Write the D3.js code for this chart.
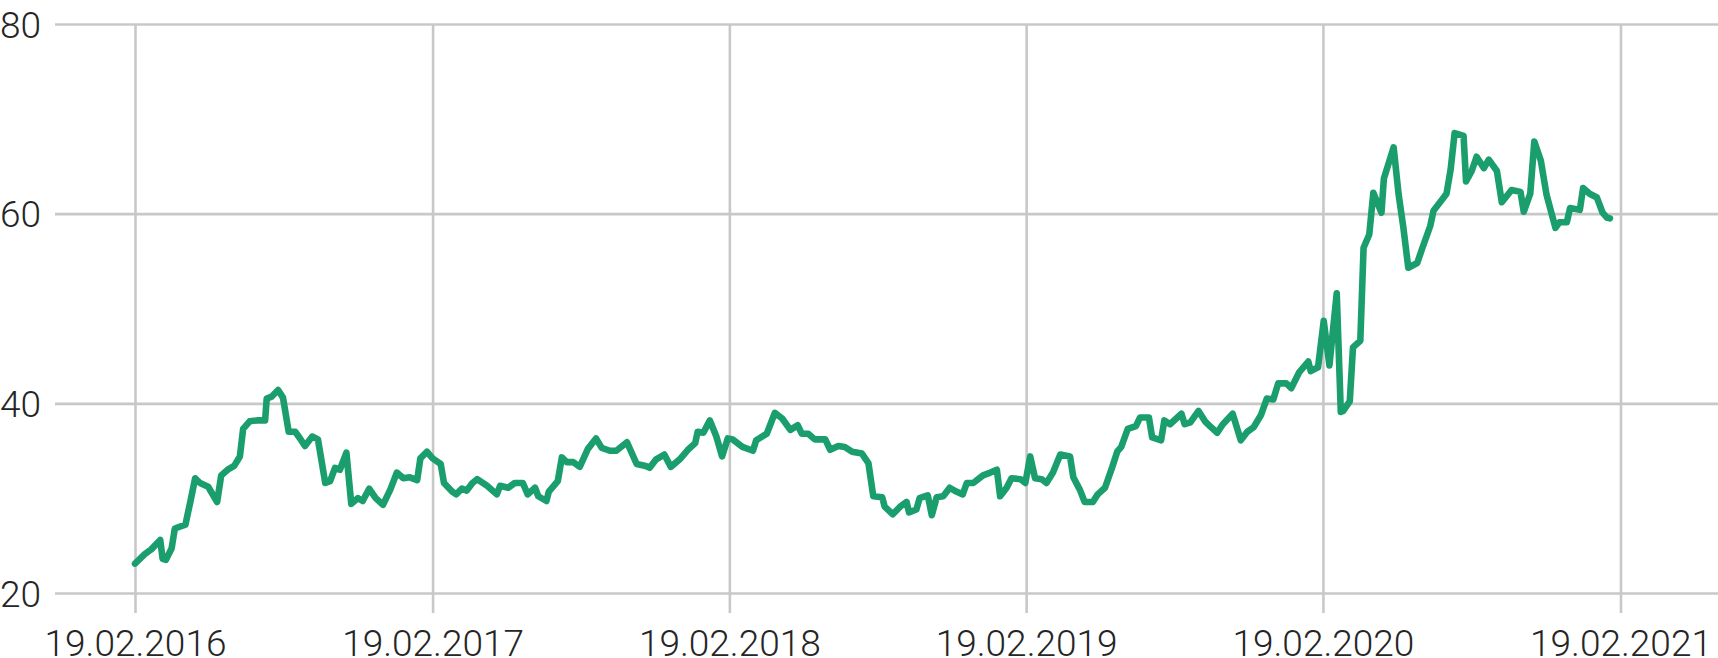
<!DOCTYPE html>
<html>
<head>
<meta charset="utf-8">
<script src="https://cdn.jsdelivr.net/npm/d3@7"></script>
<style>
  html, body { margin: 0; padding: 0; background: #ffffff; }
  svg { display: block; }
  .tick text { font-family: Roboto, "Open Sans", sans-serif; font-weight: 300; font-size: 37px; fill: #252525; }
</style>
</head>
<body>
<svg id="chart" width="1718" height="658"></svg>
<script>
// ---- data ----
const dates = [
"2016-02-19","2016-03-02","2016-03-10","2016-03-21","2016-03-24","2016-03-28","2016-04-04","2016-04-08","2016-04-21","2016-04-27",
"2016-05-03","2016-05-09","2016-05-19","2016-05-30","2016-06-04","2016-06-12","2016-06-20","2016-06-27","2016-07-01","2016-07-09",
"2016-07-18","2016-07-28","2016-07-30","2016-08-05","2016-08-13","2016-08-19","2016-08-26","2016-09-03","2016-09-09","2016-09-15",
"2016-09-24","2016-10-01","2016-10-10","2016-10-16","2016-10-22","2016-10-28","2016-11-05","2016-11-11","2016-11-19","2016-11-25",
"2016-12-03","2016-12-11","2016-12-20","2016-12-29","2017-01-06","2017-01-14","2017-01-22","2017-01-31","2017-02-04","2017-02-12",
"2017-02-19","2017-03-01","2017-03-05","2017-03-15","2017-03-20","2017-03-27","2017-04-02","2017-04-09","2017-04-15","2017-04-27",
"2017-05-09","2017-05-13","2017-05-23","2017-05-31","2017-06-10","2017-06-16","2017-06-25","2017-06-29","2017-07-09","2017-07-12",
"2017-07-23","2017-07-28","2017-08-03","2017-08-11","2017-08-19","2017-08-29","2017-09-08","2017-09-15","2017-09-25","2017-10-03",
"2017-10-16","2017-10-28","2017-11-08","2017-11-13","2017-11-21","2017-12-01","2017-12-09","2017-12-20","2017-12-30","2018-01-08",
"2018-01-11","2018-01-18","2018-01-26","2018-02-03","2018-02-10","2018-02-17","2018-02-23","2018-03-07","2018-03-20","2018-03-24",
"2018-04-06","2018-04-16","2018-04-25","2018-05-05","2018-05-14","2018-05-19","2018-05-27","2018-06-04","2018-06-17","2018-06-23",
"2018-07-03","2018-07-11","2018-07-20","2018-08-01","2018-08-09","2018-08-15","2018-08-26","2018-08-29","2018-09-08","2018-09-17",
"2018-09-25","2018-09-28","2018-10-07","2018-10-11","2018-10-21","2018-10-26","2018-11-01","2018-11-09","2018-11-17","2018-11-25",
"2018-12-03","2018-12-08","2018-12-16","2018-12-22","2018-12-28","2019-01-06","2019-01-14","2019-01-18","2019-01-26","2019-02-01",
"2019-02-12","2019-02-18","2019-02-24","2019-03-02","2019-03-10","2019-03-16","2019-03-24","2019-04-02","2019-04-14","2019-04-18",
"2019-04-26","2019-05-02","2019-05-12","2019-05-18","2019-05-27","2019-06-05","2019-06-11","2019-06-16","2019-06-24","2019-07-04",
"2019-07-09","2019-07-20","2019-07-24","2019-08-04","2019-08-08","2019-08-15","2019-08-29","2019-09-02","2019-09-09","2019-09-19",
"2019-09-27","2019-10-03","2019-10-12","2019-10-19","2019-10-31","2019-11-10","2019-11-18","2019-11-26","2019-12-05","2019-12-12",
"2019-12-20","2019-12-26","2020-01-05","2020-01-11","2020-01-21","2020-02-01","2020-02-04","2020-02-13","2020-02-20","2020-02-27",
"2020-03-07","2020-03-12","2020-03-15","2020-03-23","2020-03-27","2020-04-05","2020-04-09","2020-04-16","2020-04-21","2020-05-01",
"2020-05-04","2020-05-16","2020-05-22","2020-05-28","2020-06-03","2020-06-14","2020-06-20","2020-06-30","2020-07-04","2020-07-13",
"2020-07-20","2020-07-25","2020-07-30","2020-08-10","2020-08-13","2020-08-20","2020-08-26","2020-09-04","2020-09-10","2020-09-20",
"2020-09-26","2020-10-08","2020-10-19","2020-10-23","2020-10-31","2020-11-05","2020-11-13","2020-11-20","2020-12-01","2020-12-06",
"2020-12-15","2020-12-19","2020-12-31","2021-01-04","2021-01-12","2021-01-21","2021-01-28","2021-02-02","2021-02-06"
];
const values = [
23.1,24.1,24.6,25.6,23.6,23.5,24.7,26.8,27.2,29.6,
32.1,31.6,31.2,29.6,32.4,33.0,33.4,34.4,37.3,38.1,
38.2,38.2,40.5,40.7,41.4,40.6,37.0,37.0,36.3,35.5,
36.5,36.2,31.6,31.8,33.2,33.0,34.8,29.4,30.0,29.7,
31.0,30.0,29.3,30.9,32.7,32.1,32.2,31.9,34.2,34.9,
34.2,33.6,31.6,30.7,30.4,31.0,30.8,31.6,32.0,31.3,
30.4,31.3,31.1,31.6,31.6,30.4,31.1,30.2,29.7,30.7,
31.8,34.3,33.8,33.8,33.3,35.2,36.3,35.3,35.0,35.0,
35.9,33.6,33.4,33.2,34.1,34.6,33.3,34.1,35.1,35.8,
37.0,36.9,38.2,36.5,34.4,36.3,36.2,35.4,35.0,36.1,
36.8,39.0,38.4,37.2,37.7,36.8,36.8,36.2,36.2,35.1,
35.5,35.4,34.9,34.7,33.7,30.2,30.1,29.1,28.3,29.1,
29.6,28.5,28.8,30.0,30.3,28.2,30.1,30.2,31.1,30.7,
30.4,31.6,31.6,32.0,32.4,32.7,33.0,30.2,31.1,32.1,
32.0,31.6,34.4,32.1,32.0,31.6,32.7,34.6,34.4,32.2,
30.9,29.6,29.6,30.4,31.1,33.3,34.9,35.4,37.3,37.6,
38.5,38.5,36.4,36.1,38.2,37.8,38.9,37.8,38.0,39.2,
38.1,37.6,36.9,37.8,38.9,36.1,37.0,37.5,38.8,40.5,
40.4,42.1,42.1,41.6,43.3,44.4,43.4,43.8,48.7,44.0,
51.6,39.1,39.2,40.2,45.9,46.6,56.4,57.8,62.2,60.1,
63.7,67.0,62.1,58.5,54.3,54.8,56.3,58.7,60.3,61.3,
62.1,64.6,68.5,68.2,63.4,64.5,66.0,64.8,65.7,64.5,
61.2,62.5,62.3,60.2,62.1,67.6,65.6,62.0,58.5,59.1,
59.1,60.6,60.4,62.7,62.1,61.7,60.1,59.6,59.5
];
const yTicks = [20, 40, 60, 80];
const xTicks = ["2016-02-19","2017-02-19","2018-02-19","2019-02-19","2020-02-19","2021-02-19"];
const xDomain = ["2016-02-19", "2021-02-19"];

// ---- chart ----
const W = 1718, H = 658;
const gridLeft = 55, gridRight = W;
const yTop = 24, yBottom = 593, tickBottom = 613;
const parse = d3.utcParse("%Y-%m-%d");
const fmt = d3.utcFormat("%d.%m.%Y");

const svg = d3.select("#chart");
const x = d3.scaleUtc().domain(xDomain.map(parse)).range([135, 1620.5]);
const y = d3.scaleLinear().domain([20, 80]).range([yBottom, yTop]);

const gridColor = "#c8c8c8";

// horizontal grid + y labels
const yAxis = svg.append("g")
  .attr("transform", `translate(${gridLeft},0)`)
  .call(d3.axisLeft(y).tickValues(yTicks).tickSize(-(gridRight - gridLeft)).tickFormat(d3.format("d")));
yAxis.select(".domain").remove();
yAxis.selectAll(".tick line").attr("stroke", gridColor).attr("stroke-width", 2.6);
yAxis.selectAll(".tick text")
  .attr("x", -gridLeft).attr("dy", "0.36em")
  .attr("text-anchor", "start")
  .attr("font-family", null).attr("font-size", null);

// vertical grid + x labels
const xAxis = svg.append("g")
  .attr("transform", `translate(0,${tickBottom})`)
  .call(d3.axisBottom(x).tickValues(xTicks.map(parse)).tickSize(-(tickBottom - yTop)).tickFormat(fmt));
xAxis.select(".domain").remove();
xAxis.selectAll(".tick line").attr("stroke", gridColor).attr("stroke-width", 2.6);
xAxis.selectAll(".tick text")
  .attr("y", 43).attr("dy", 0)
  .attr("font-family", null).attr("font-size", null);

// line
const data = dates.map((d, i) => ({ date: parse(d), value: values[i] }));
const line = d3.line().x(d => x(d.date)).y(d => y(d.value));
svg.append("path")
  .datum(data)
  .attr("d", line)
  .attr("fill", "none")
  .attr("stroke", "#1b9e6d")
  .attr("stroke-width", 6.6)
  .attr("stroke-linejoin", "round")
  .attr("stroke-linecap", "round");
</script>
</body>
</html>
